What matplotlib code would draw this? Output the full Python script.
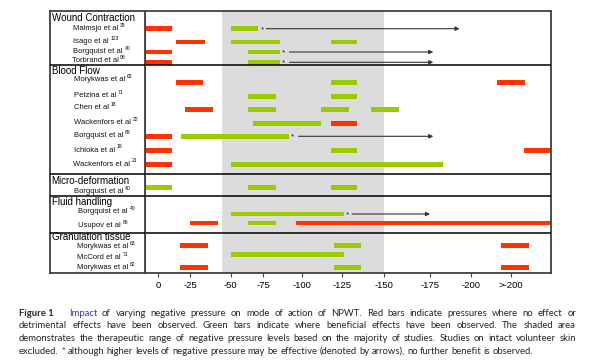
import numpy as np
import matplotlib
matplotlib.use("Agg")
import matplotlib.pyplot as plt

# pressure values in mmHg (shown as negative on the axis), 225 stands for ">-200"
studies = ["Malmsjo et al", "Isago et al", "Borgquist et al", "Torbrand et al",
           "Morykwas et al", "Petzina et al", "Chen et al", "Wackenfors et al",
           "Borgquist et al", "Ichioka et al", "Wackenfors et al",
           "Borgquist et al",
           "Borgquist et al", "Usupov et al",
           "Morykwas et al", "McCord et al", "Morykwas et al"]
refs = ["39", "123", "40", "98", "62", "71", "18", "22", "69", "19", "21",
        "40", "40", "86", "63", "71", "62"]
sections = ["Wound Contraction", "Blood Flow", "Micro-deformation",
            "Fluid handling", "Granulation tissue"]

red_bars = [
    [(-10, 11)], [(14, 34)], [(-10, 11)], [(-10, 11)],
    [(14, 33), (216, 234)], [], [(21, 39)], [(118, 134)],
    [(-10, 11)], [(-10, 11), (233, 250)], [(-10, 11)],
    [],
    [], [(25, 42), (96, 250)],
    [(17, 36), (219, 236)], [], [(17, 36), (219, 236)],
]
green_bars = [
    [(50, 71)], [(50, 86), (118, 134)], [(63, 86)], [(63, 86)],
    [(118, 134)], [(63, 83), (118, 134)], [(63, 83), (112, 129), (142, 158)], [(67, 112)],
    [(18, 92)], [(118, 134)], [(50, 183)],
    [(-10, 11), (63, 83), (118, 134)],
    [(50, 126)], [(63, 83)],
    [(120, 136)], [(50, 126)], [(120, 136)],
]
# (star, arrow start, arrow end) where higher pressure gave no further benefit
arrows = [(74, 77, 193), None, (88, 92, 177), (88, 92, 177),
          None, None, None, None,
          (94, 98, 177), None, None,
          None,
          (128, 131, 175), None,
          None, None, None]
shaded = (44.5, 150)

tick_vals = [0, 25, 50, 75, 100, 125, 150, 175, 200, 225]
tick_labels = ["0", "-25", "-50", "-75", "-100", "-125", "-150", "-175", "-200", ">-200"]

# layout (pixel rows of the original figure)
tick_px = np.array([158, 190, 230.7, 263.3, 301.7, 342, 384, 430, 471, 511])
row_y = [28.7, 42, 52, 62.3, 82.7, 96.3, 109.7, 123.3, 136.3, 150.7, 164.3,
         187.3, 214, 223, 245.3, 254.3, 267.7]
label_y = [28.7, 41.3, 51.3, 60.7, 79.5, 95.3, 107.5, 122.3, 135.7, 150, 164,
           191.5, 211.7, 225.7, 246.7, 257.3, 267.7]
label_x = [73.3, 73.3, 73.3, 71.7, 74, 74, 74, 74, 74, 74, 73.3,
           74, 78.3, 78.3, 76.7, 77.3, 76.7]
header_y = [18, 70.7, 180.5, 202.3, 237.3]
sep_y = [65.3, 173.7, 195.7, 232.7]

RED = "#ff3300"
GREEN = "#99cc00"
FRAME = "#404040"

tp = np.array(tick_vals, float)


def fwd(p):
    p = np.asarray(p, float)
    out = np.interp(p, tp, tick_px)
    out = np.where(p < tp[0], tick_px[0] + (p - tp[0]) * 1.28, out)
    out = np.where(p > tp[-1], tick_px[-1] + (p - tp[-1]) * 1.6, out)
    return out


def inv(x):
    x = np.asarray(x, float)
    out = np.interp(x, tick_px, tp)
    out = np.where(x < tick_px[0], tp[0] + (x - tick_px[0]) / 1.28, out)
    out = np.where(x > tick_px[-1], tp[-1] + (x - tick_px[-1]) / 1.6, out)
    return out


plt.rcParams["font.family"] = ["Liberation Sans", "DejaVu Sans"]
fig = plt.figure(figsize=(6, 3.61), dpi=100)

bottom = 1 - 272.7 / 361
height = (272.7 - 11.3) / 361
ax = fig.add_axes([145 / 600, bottom, 406 / 600, height])
lab = fig.add_axes([49.7 / 600, bottom, (145 - 49.7) / 600, height], sharey=ax)

ax.set_xscale("function", functions=(fwd, inv))
ax.set_xlim(-10.2, 250)
ax.set_ylim(272.7, 11.3)
ax.axvspan(*shaded, color="#dcdcdc", zorder=0, lw=0)

for i, y in enumerate(row_y):
    for x0, x1 in red_bars[i]:
        ax.barh(y, x1 - x0, left=x0, height=4.6, color=RED, zorder=2)
    for x0, x1 in green_bars[i]:
        ax.barh(y, x1 - x0, left=x0, height=4.6, color=GREEN, zorder=2)
    if arrows[i]:
        star, a0, a1 = arrows[i]
        ax.text(star, y + 0.8, "*", fontsize=6, ha="center", va="center", color="#222222")
        ax.annotate("", xy=(a1, y), xytext=(a0, y),
                    arrowprops=dict(arrowstyle="-|>", color="#333333", lw=0.8,
                                    mutation_scale=6, shrinkA=0, shrinkB=0))

ax.set_xticks(tick_vals)
ax.set_xticklabels(tick_labels)
ax.minorticks_off()
ax.set_yticks([])
ax.tick_params(axis="x", length=3, width=0.8, color=FRAME, pad=3, labelsize=6.8)

lab.set_xlim(49.7, 145)
lab.set_xticks([])
lab.tick_params(axis="y", left=False, labelleft=False)

for a in (ax, lab):
    for s in a.spines.values():
        s.set_color(FRAME)
        s.set_linewidth(1.3)
    for y in sep_y:
        a.axhline(y, color="black", lw=1.1, zorder=3)

for name, y in zip(sections, header_y):
    lab.text(51.7, y, name, fontsize=7, ha="left", va="center", color="black")

for name, ref, x, y in zip(studies, refs, label_x, label_y):
    t = lab.text(x, y, name, fontsize=5.5, ha="left", va="center", color="#111111")
    lab.annotate(ref, xy=(1, 0.6), xycoords=t, xytext=(1.2, 0),
                 textcoords="offset points", fontsize=3.6, va="bottom", ha="left")

# caption, justified word by word
caption = [
    "Impact of varying negative pressure on mode of action of NPWT. Red bars indicate pressures where no effect or",
    "detrimental effects have been observed. Green bars indicate where beneficial effects have been observed. The shaded area",
    "demonstrates the therapeutic range of negative pressure levels based on the majority of studies. Studies on intact volunteer skin",
    "excluded. * although higher levels of negative pressure may be effective (denoted by arrows), no further benefit is observed.",
]
cap_y = [313.8, 326, 338.8, 351]
CAP = "#262626"
renderer = fig.canvas.get_renderer()
cap_kw = dict(fontsize=6.8, family="Lato", va="center", ha="left")

fig.text(19 / 600, 1 - cap_y[0] / 361, "Figure 1", fontweight="bold", color=CAP, **cap_kw)

probe2 = fig.text(0, 0, "a a", **cap_kw)
probe1 = fig.text(0, 0, "aa", **cap_kw)
space_w = probe2.get_window_extent(renderer).width - probe1.get_window_extent(renderer).width
probe2.remove()
probe1.remove()

for li, line in enumerate(caption):
    x_start = 69 if li == 0 else 19
    words = line.split(" ")
    texts = []
    for wi, w in enumerate(words):
        col = "#2e3d99" if (li == 0 and wi == 0) else CAP
        texts.append(fig.text(0, 1 - cap_y[li] / 361, w, color=col, **cap_kw))
    widths = [t.get_window_extent(renderer).width for t in texts]
    if li < len(caption) - 1:
        gap = (576 - x_start - sum(widths)) / (len(words) - 1)
    else:
        gap = space_w
    x = x_start
    for t, w in zip(texts, widths):
        t.set_x(x / 600)
        x += w + gap

fig.savefig("out.png", dpi=100)
